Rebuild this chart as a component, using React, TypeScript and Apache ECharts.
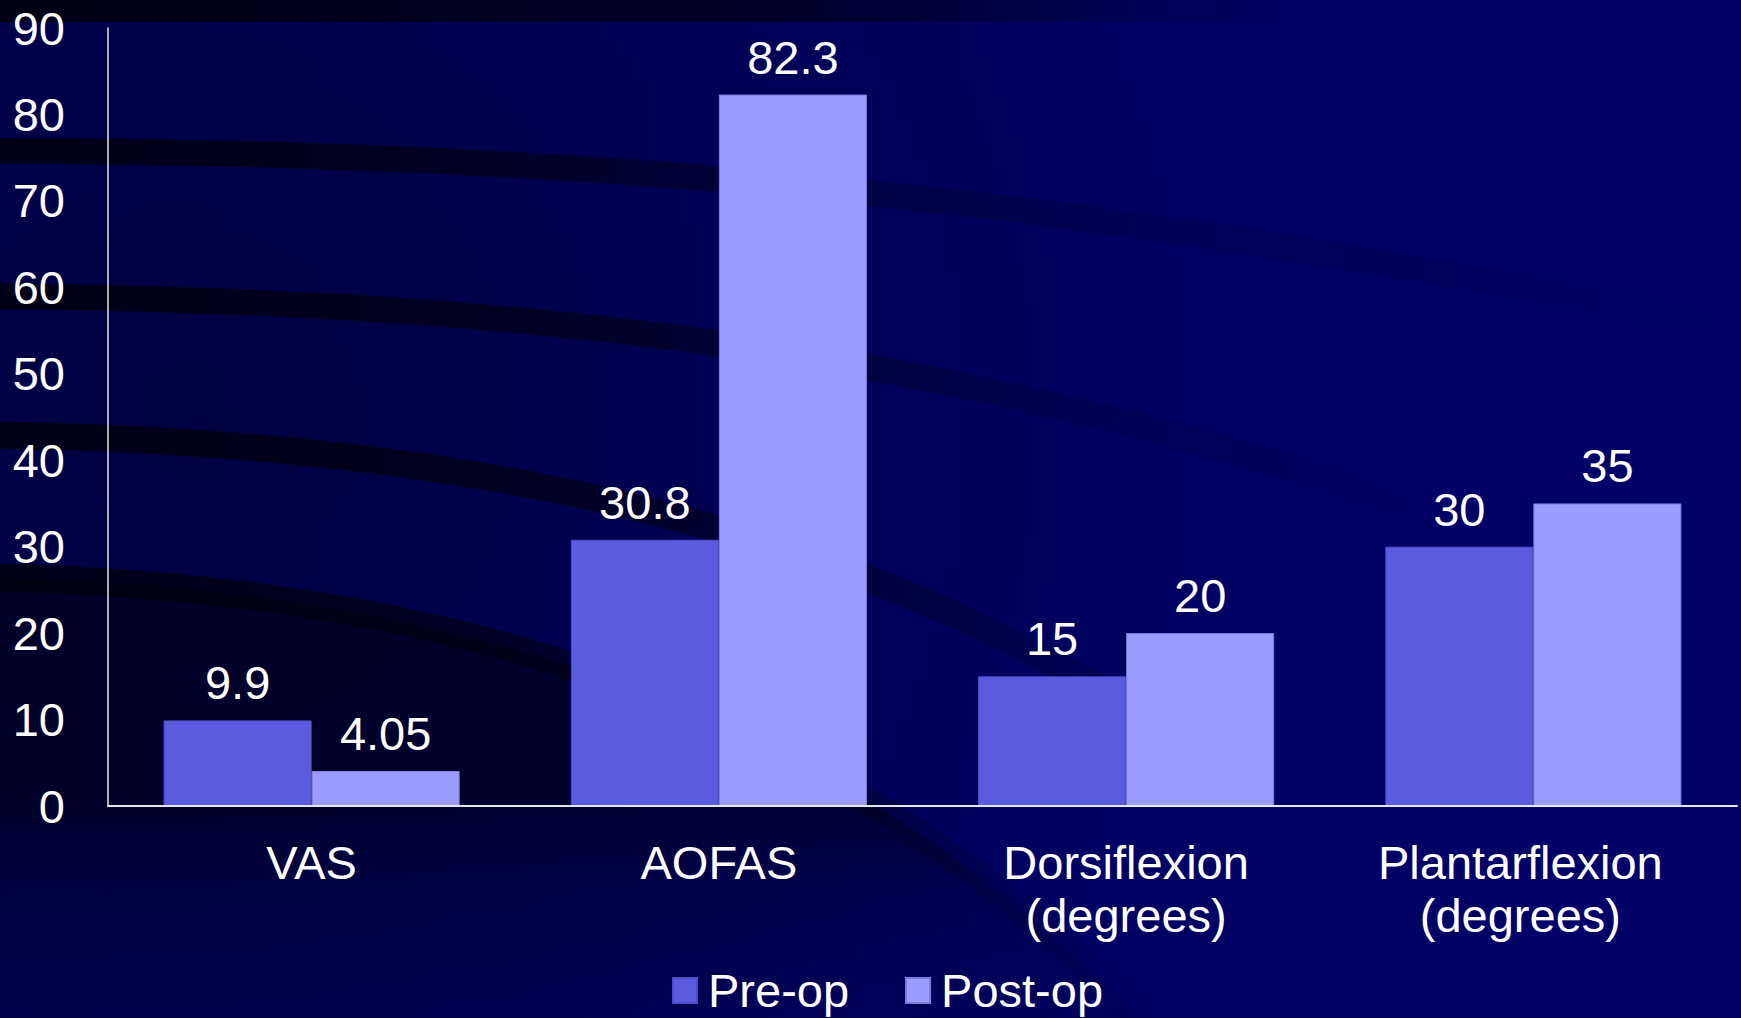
import React, { useEffect, useRef } from "react";
import * as echarts from "echarts";

const categories = ["VAS", "AOFAS", "Dorsiflexion\n(degrees)", "Plantarflexion\n(degrees)"];
const preOp = [9.9, 30.8, 15, 30];
const postOp = [4.05, 82.3, 20, 35];
const seriesNames = ["Pre-op", "Post-op"];
const yMin = 0;
const yMax = 90;
const yStep = 10;

const FONT = "'Liberation Sans', Arial, sans-serif";

echarts.graphic.registerShape(
  "darkRegion",
  echarts.graphic.extendPath("M -20 577 C 400 585 820 680 1150 1030 L -20 1030 Z", {})
);

function band(x1: number, y1: number, c1x: number, c1y: number, c2x: number, c2y: number, x2: number, y2: number, w: number, a: number, fadeAt: number) {
  return {
    type: "bezierCurve",
    z: -10,
    silent: true,
    shape: { x1, y1, cpx1: c1x, cpy1: c1y, cpx2: c2x, cpy2: c2y, x2, y2 },
    style: {
      fill: null,
      lineWidth: w,
      stroke: new echarts.graphic.LinearGradient(0, 0, 1, 0, [
        { offset: 0, color: `rgba(0,0,14,${a})` },
        { offset: fadeAt * 0.5, color: `rgba(0,0,14,${a * 0.8})` },
        { offset: fadeAt, color: `rgba(0,0,14,${a * 0.3})` },
        { offset: 1, color: "rgba(0,0,14,0)" },
      ]),
    },
  };
}

export default function App() {
  const ref = useRef<HTMLDivElement>(null);
  useEffect(() => {
    document.body.style.margin = "0";
    document.body.style.overflow = "hidden";
    const chart = echarts.init(ref.current!, null, { renderer: "svg" });
    const W = 1741;
    const H = 1018;
    const option: any = {
      animation: false,
      graphic: {
        elements: [
          {
            type: "rect",
            z: -20,
            silent: true,
            shape: { x: 0, y: 0, width: W, height: H },
            style: {
              fill: new echarts.graphic.LinearGradient(0, 0, 1, 0, [
                { offset: 0, color: "#000058" },
                { offset: 1, color: "#000068" },
              ]),
            },
          },
          {
            type: "rect",
            z: -19,
            silent: true,
            shape: { x: 0, y: 0, width: W, height: H },
            style: {
              fill: new echarts.graphic.RadialGradient(
                200,
                420,
                1000,
                [
                  { offset: 0, color: "rgba(0,0,0,0.28)" },
                  { offset: 1, color: "rgba(0,0,0,0)" },
                ],
                true
              ),
            },
          },
          {
            type: "darkRegion",
            z: -15,
            silent: true,
            x: 0,
            y: 0,
            style: {
              fill: new echarts.graphic.LinearGradient(
                0,
                577,
                0,
                1018,
                [
                  { offset: 0, color: "rgba(0,0,10,0.5)" },
                  { offset: 0.5, color: "rgba(0,0,10,0.5)" },
                  { offset: 0.7, color: "rgba(0,0,10,0.18)" },
                  { offset: 1, color: "rgba(0,0,10,0.05)" },
                ],
                true
              ),
            },
          },
          {
            type: "rect",
            z: -10,
            silent: true,
            shape: { x: 0, y: 0, width: 1300, height: 22 },
            style: {
              fill: new echarts.graphic.LinearGradient(0, 0, 1, 0, [
                { offset: 0, color: "rgba(0,0,14,0.9)" },
                { offset: 0.6, color: "rgba(0,0,14,0.6)" },
                { offset: 1, color: "rgba(0,0,14,0)" },
              ]),
            },
          },
          band(-20, 151, 600, 150, 1100, 200, 1750, 330, 26, 0.85, 0.5),
          band(-20, 296, 500, 300, 950, 345, 1450, 520, 26, 0.85, 0.65),
          band(-20, 435, 450, 440, 900, 520, 1250, 790, 27, 0.85, 0.8),
          band(-20, 577, 400, 585, 820, 680, 1150, 1030, 28, 0.8, 0.8),
        ],
      },
      grid: { left: 108, right: 4, top: 28, bottom: 212, containLabel: false },
      legend: {
        data: seriesNames,
        left: 667,
        top: 962,
        itemWidth: 24,
        itemHeight: 25,
        itemGap: 56,
        icon: "rect",
        textStyle: { color: "#ffffff", fontSize: 47, fontFamily: FONT, lineHeight: 46, padding: [0, 0, 0, 6] },
      },
      xAxis: {
        type: "category",
        z: 5,
        data: categories.map((c, i) =>
          i === 3 ? { value: c, textStyle: { padding: [0, 26, 0, 0] } } : c
        ),
        axisLine: { show: true, lineStyle: { color: "#e6e6e6", width: 2 } },
        axisTick: { show: false },
        axisLabel: {
          interval: 0,
          color: "#ffffff",
          fontSize: 47,
          fontFamily: FONT,
          lineHeight: 53,
          margin: 30,
        },
        splitLine: { show: false },
      },
      yAxis: {
        type: "value",
        z: 5,
        min: yMin,
        max: yMax,
        interval: yStep,
        axisLine: { show: true, lineStyle: { color: "#e6e6e6", width: 1.5 } },
        axisTick: { show: false },
        splitLine: { show: false },
        axisLabel: { color: "#ffffff", fontSize: 47, fontFamily: FONT, margin: 43 },
      },
      series: [
        {
          name: seriesNames[0],
          type: "bar",
          data: preOp,
          barGap: "0%",
          barCategoryGap: "27.3%",
          itemStyle: { color: "#5B5BDF", borderColor: "#4E4EC8", borderWidth: 1 },
          label: { show: true, position: "top", distance: 14, color: "#ffffff", fontSize: 47, fontFamily: FONT },
        },
        {
          name: seriesNames[1],
          type: "bar",
          data: postOp,
          barGap: "0%",
          barCategoryGap: "27.3%",
          itemStyle: { color: "#9C9CFF", borderColor: "#7E7EE0", borderWidth: 1 },
          label: { show: true, position: "top", distance: 14, color: "#ffffff", fontSize: 47, fontFamily: FONT },
        },
      ],
    };
    chart.setOption(option);
    return () => chart.dispose();
  }, []);
  return <div ref={ref} style={{ width: 1741, height: 1018 }} />;
}
